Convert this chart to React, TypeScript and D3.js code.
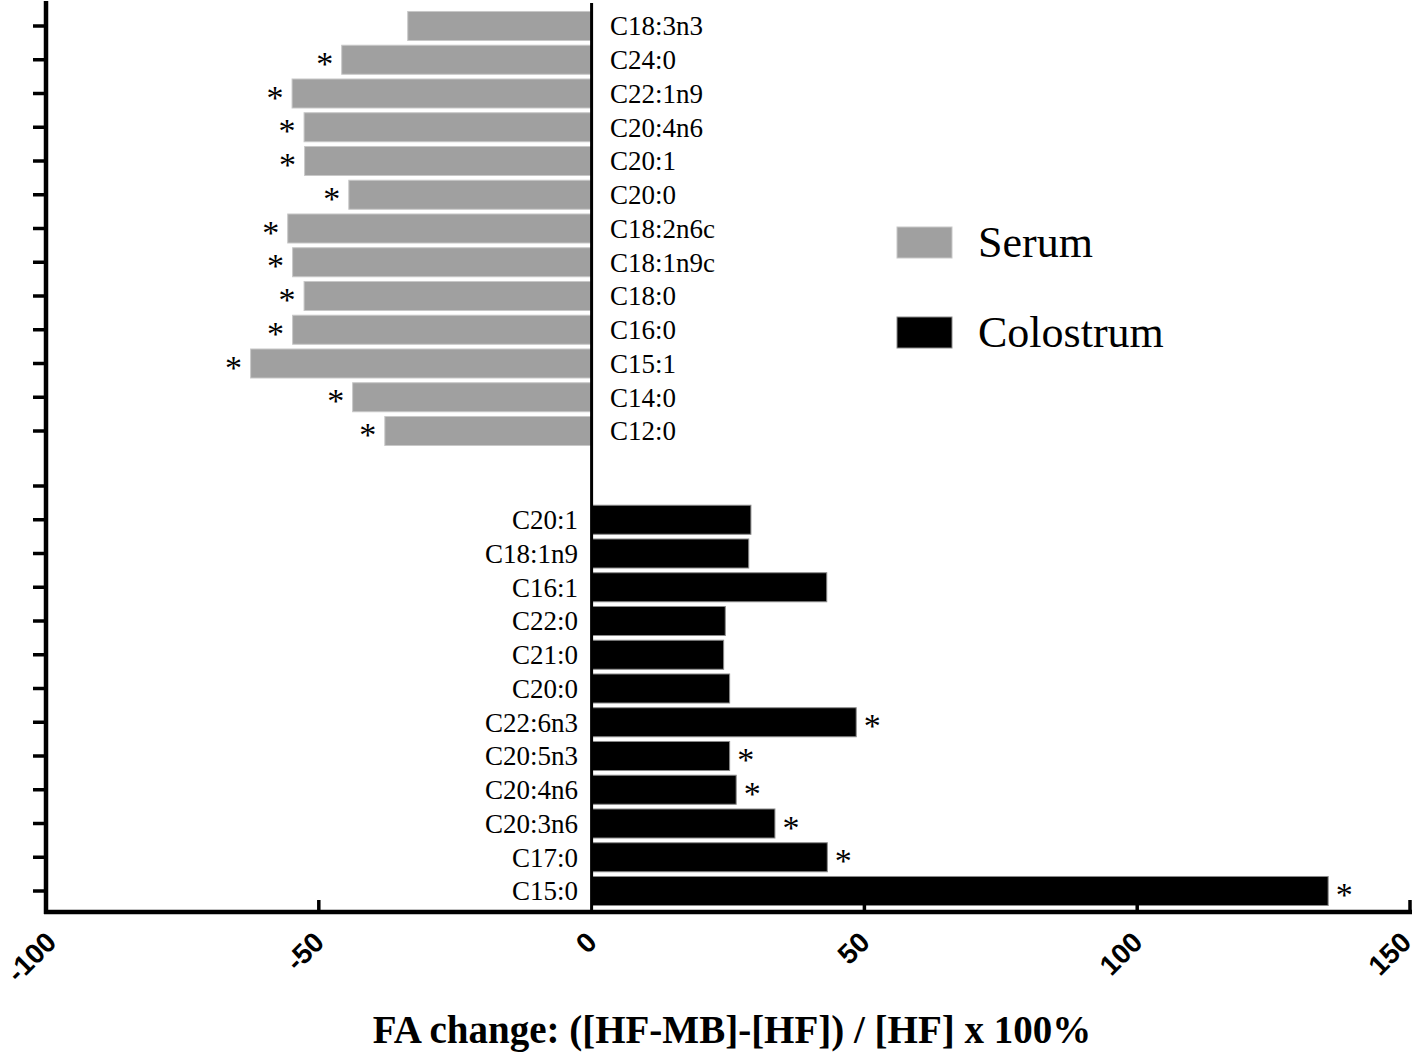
import React, { useEffect, useRef } from 'react';
import * as d3 from 'd3';

// serum: bars to the left of zero
const serumLabels = ['C18:3n3', 'C24:0', 'C22:1n9', 'C20:4n6', 'C20:1', 'C20:0', 'C18:2n6c', 'C18:1n9c', 'C18:0', 'C16:0', 'C15:1', 'C14:0', 'C12:0'];
const serumValues = [-33.7, -45.8, -54.9, -52.7, -52.6, -44.5, -55.7, -54.8, -52.7, -54.8, -62.5, -43.8, -37.9];
const serumSig = [false, true, true, true, true, true, true, true, true, true, true, true, true];

// colostrum: bars to the right of zero
const colostrumLabels = ['C20:1', 'C18:1n9', 'C16:1', 'C22:0', 'C21:0', 'C20:0', 'C22:6n3', 'C20:5n3', 'C20:4n6', 'C20:3n6', 'C17:0', 'C15:0'];
const colostrumValues = [29.2, 28.8, 43.1, 24.5, 24.2, 25.3, 48.5, 25.3, 26.5, 33.6, 43.2, 135.0];
const colostrumSig = [false, false, false, false, false, false, true, true, true, true, true, true];

const xTicks = [-100, -50, 0, 50, 100, 150];
const legendItems = ['Serum', 'Colostrum'];
const xTitle = 'FA change: ([HF-MB]-[HF]) / [HF] x 100%';

const W = 1418;
const H = 1060;
const GRAY = '#a0a0a0';

const App = () => {
    const ref = useRef<SVGSVGElement>(null);

    useEffect(() => {
        if (!ref.current) return;
        const svg = d3.select(ref.current);
        svg.selectAll('*').remove();

        const x = d3.scaleLinear().domain([-100, 150]).range([46, 1410]);
        const step = 33.75;
        const pad = 0.14;

        const yTop = d3.scaleBand<string>()
            .domain(serumLabels)
            .range([26 - step / 2, 431 + step / 2])
            .paddingInner(pad)
            .paddingOuter(pad / 2);

        // bottom block has one empty slot above the first bar
        const yBot = d3.scaleBand<string>()
            .domain(['', ...colostrumLabels])
            .range([486 - step / 2, 891 + step / 2])
            .paddingInner(pad)
            .paddingOuter(pad / 2);

        const axisY = 912;
        const serif = '"Liberation Serif", "Times New Roman", serif';
        const sans = '"Liberation Sans", Arial, sans-serif';

        const serum = serumLabels.map((k, i) => ({ key: k, value: serumValues[i], sig: serumSig[i] }));
        const colostrum = colostrumLabels.map((k, i) => ({ key: k, value: colostrumValues[i], sig: colostrumSig[i] }));

        // serum bars
        svg.append('g')
            .selectAll('rect')
            .data(serum)
            .enter()
            .append('rect')
            .attr('x', d => x(d.value))
            .attr('y', d => yTop(d.key) as number)
            .attr('width', d => x(0) - x(d.value))
            .attr('height', yTop.bandwidth())
            .attr('fill', GRAY)
            .attr('stroke', '#c8c8c8')
            .attr('stroke-width', 1);

        // colostrum bars
        svg.append('g')
            .selectAll('rect')
            .data(colostrum)
            .enter()
            .append('rect')
            .attr('x', x(0))
            .attr('y', d => yBot(d.key) as number)
            .attr('width', d => x(d.value) - x(0))
            .attr('height', yBot.bandwidth())
            .attr('fill', '#000')
            .attr('stroke', '#8a8a8a')
            .attr('stroke-width', 1);

        // category labels
        svg.append('g')
            .selectAll('text')
            .data(serum)
            .enter()
            .append('text')
            .attr('x', 610)
            .attr('y', d => (yTop(d.key) as number) + yTop.bandwidth() / 2)
            .attr('dy', '0.35em')
            .style('font-family', serif)
            .style('font-size', '27px')
            .text(d => d.key);

        svg.append('g')
            .selectAll('text')
            .data(colostrum)
            .enter()
            .append('text')
            .attr('x', 578)
            .attr('y', d => (yBot(d.key) as number) + yBot.bandwidth() / 2)
            .attr('dy', '0.35em')
            .attr('text-anchor', 'end')
            .style('font-family', serif)
            .style('font-size', '27px')
            .text(d => d.key);

        // significance stars
        svg.append('g')
            .selectAll('text')
            .data(serum.filter(d => d.sig))
            .enter()
            .append('text')
            .attr('x', d => x(d.value) - 17)
            .attr('y', d => (yTop(d.key) as number) + yTop.bandwidth() / 2 + 15)
            .attr('text-anchor', 'middle')
            .style('font-family', serif)
            .style('font-size', '34px')
            .text('*');

        svg.append('g')
            .selectAll('text')
            .data(colostrum.filter(d => d.sig))
            .enter()
            .append('text')
            .attr('x', d => x(d.value) + 16)
            .attr('y', d => (yBot(d.key) as number) + yBot.bandwidth() / 2 + 15)
            .attr('text-anchor', 'middle')
            .style('font-family', serif)
            .style('font-size', '34px')
            .text('*');

        // zero line
        svg.append('line')
            .attr('x1', x(0)).attr('x2', x(0))
            .attr('y1', 3).attr('y2', axisY)
            .attr('stroke', '#000')
            .attr('stroke-width', 3);

        // left axis ticks (no labels)
        const leftTicks = [...serumLabels.map(k => (yTop(k) as number) + yTop.bandwidth() / 2),
            ...yBot.domain().map(k => (yBot(k) as number) + yBot.bandwidth() / 2)];
        svg.append('g')
            .selectAll('line')
            .data(leftTicks)
            .enter()
            .append('line')
            .attr('x1', 33).attr('x2', 46)
            .attr('y1', d => d).attr('y2', d => d)
            .attr('stroke', '#000')
            .attr('stroke-width', 3.5);

        svg.append('line')
            .attr('x1', 46).attr('x2', 46)
            .attr('y1', 1).attr('y2', axisY + 2)
            .attr('stroke', '#000')
            .attr('stroke-width', 4.5);

        // bottom axis
        svg.append('line')
            .attr('x1', 44).attr('x2', 1412)
            .attr('y1', axisY).attr('y2', axisY)
            .attr('stroke', '#000')
            .attr('stroke-width', 4.5);

        svg.append('g')
            .selectAll('line')
            .data(xTicks.filter(t => t !== 0 && t !== -100))
            .enter()
            .append('line')
            .attr('x1', d => x(d)).attr('x2', d => x(d))
            .attr('y1', axisY).attr('y2', axisY - 12)
            .attr('stroke', '#000')
            .attr('stroke-width', 3.5);

        // rotated tick labels, kept inside the picture at both ends
        svg.append('g')
            .selectAll('text')
            .data(xTicks)
            .enter()
            .append('text')
            .attr('transform', d => `translate(${Math.min(Math.max(x(d) + 7, 58), 1413)},${944}) rotate(-45)`)
            .attr('text-anchor', 'end')
            .style('font-family', sans)
            .style('font-weight', 'bold')
            .style('font-size', '28px')
            .text(d => String(d));

        svg.append('text')
            .attr('x', 732)
            .attr('y', 1043)
            .attr('text-anchor', 'middle')
            .style('font-family', serif)
            .style('font-weight', 'bold')
            .style('font-size', '39px')
            .text(xTitle);

        // legend
        const legendColors = [GRAY, '#000'];
        const legend = svg.append('g')
            .selectAll('g')
            .data(legendItems)
            .enter()
            .append('g')
            .attr('transform', (d, i) => `translate(897,${227 + i * 90})`);

        legend.append('rect')
            .attr('width', 55)
            .attr('height', 31)
            .attr('fill', (d, i) => legendColors[i])
            .attr('stroke', (d, i) => (i === 0 ? '#c8c8c8' : '#8a8a8a'))
            .attr('stroke-width', 1);

        legend.append('text')
            .attr('x', 81)
            .attr('y', 30)
            .style('font-family', serif)
            .style('font-size', '44px')
            .text(d => d);
    }, []);

    return (
        <svg ref={ref} width={W} height={H}
            style={{ position: 'absolute', left: 0, top: 0, background: '#fff', display: 'block' }} />
    );
};

export default App;
